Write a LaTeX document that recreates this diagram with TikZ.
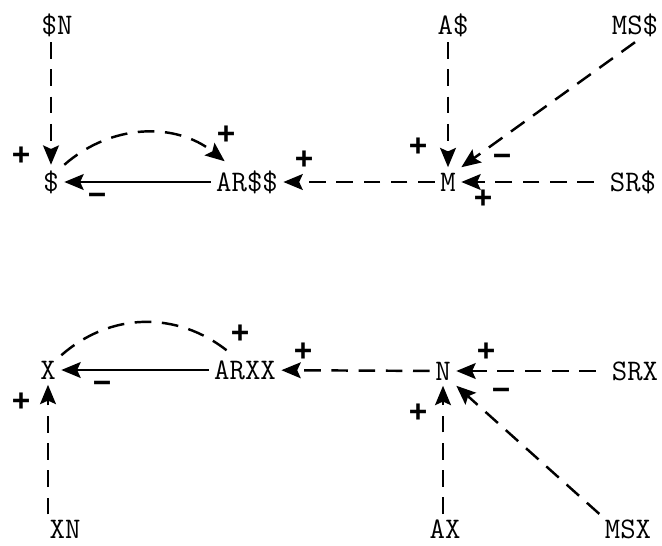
\documentclass[tikz,border=0pt]{standalone}
\usepackage{fontspec}
\newfontfamily\signfont{Liberation Sans}
\usetikzlibrary{arrows.meta}

\begin{document}
\begin{tikzpicture}[x=0.02cm, y=-0.02cm, >={Stealth[length=11pt,width=9pt,inset=2pt]},
  var/.style={font=\ttfamily\fontsize{17}{17}\selectfont, inner sep=3pt},
  link/.style={->, line width=1.4pt},
  dlink/.style={link, dash pattern=on 9.5pt off 6pt},
  loopline/.style={line width=1.4pt, dash pattern=on 9.5pt off 6pt},
  sign/.style={font=\signfont\bfseries\fontsize{18}{18}\selectfont}]
  \useasboundingbox (0,0) rectangle (662,545);

  % Money sector
  \node[var] (sN)  at (57,25)   {\$N};
  \node[var] (s)   at (51,182)  {\$};
  \node[var] (ars) at (247,182) {AR\$\$};
  \node[var] (m)   at (448,182) {M};
  \node[var] (a)   at (453,25)  {A\$};
  \node[var] (ms)  at (635,25)  {MS\$};
  \node[var] (sr)  at (633,182) {SR\$};

  \draw[dlink] (sN.south -| s) -- (s);
  \draw[link] (ars) -- (s);
  \draw[dlink] (s.north east) to[bend left=40] ([xshift=8pt,yshift=2pt]ars.north west);
  \draw[dlink] (m) -- (ars);
  \draw[dlink] (a.south -| m) -- (m);
  \draw[dlink] (ms.south) -- (m.north east);
  \draw[dlink, shorten <=6pt] (sr) -- (m);

  \node[sign] at (21,156)  {+};
  \node[sign] at (97,199)  {−};
  \node[sign] at (226,135) {+};
  \node[sign] at (304,160) {+};
  \node[sign] at (418,147) {+};
  \node[sign] at (502,160) {−};
  \node[sign] at (483,199) {+};

  % Goods sector
  \node[var] (x)   at (48,370)  {X};
  \node[var] (arx) at (245,370) {ARXX};
  \node[var] (n)   at (443,371) {N};
  \node[var] (srx) at (635,371) {SRX};
  \node[var] (xn)  at (65,529)  {XN};
  \node[var] (ax)  at (445,529) {AX};
  \node[var] (msx) at (628,529) {MSX};

  \draw[link] (arx) -- (x);
  \draw[loopline] (x.north east) to[bend left=40] ([xshift=11pt,yshift=2pt]arx.north west);
  \draw[dlink] (xn.north -| x) -- (x);
  \draw[dlink] (n) -- (arx);
  \draw[dlink, shorten <=6pt] (srx) -- (n);
  \draw[dlink] (ax.north -| n) -- (n);
  \draw[dlink] (msx.north west) -- (n.south east);

  \node[sign] at (21,402)  {+};
  \node[sign] at (102,387) {−};
  \node[sign] at (240,334) {+};
  \node[sign] at (303,352) {+};
  \node[sign] at (486,352) {+};
  \node[sign] at (418,413) {+};
  \node[sign] at (501,394) {−};
\end{tikzpicture}
\end{document}
